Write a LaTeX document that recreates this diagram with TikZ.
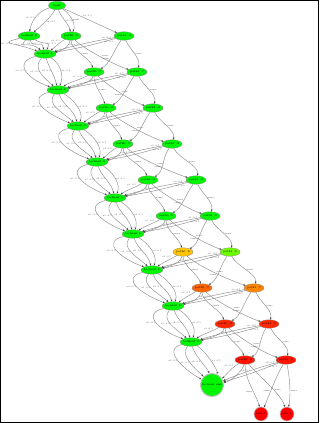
\documentclass[tikz,border=0pt]{standalone}
\usetikzlibrary{arrows.meta,shapes.geometric}
\definecolor{gr}{RGB}{0,245,0}
\definecolor{cA6}{RGB}{255,196,0}
\definecolor{cB6}{RGB}{110,250,0}
\definecolor{cA7}{RGB}{255,100,0}
\definecolor{cB7}{RGB}{255,135,0}
\definecolor{cR8}{RGB}{255,40,0}
\definecolor{cR9}{RGB}{255,20,0}
\definecolor{cE}{RGB}{255,0,0}
\begin{document}
\begin{tikzpicture}[x=1pt,y=-1pt,
  st/.style={ellipse, draw=black!45, line width=0.3pt, fill=#1, inner sep=0pt,
             minimum width=20pt, minimum height=8.5pt, font=\fontsize{2.8}{3}\selectfont},
  st/.default=gr,
  ed/.style={draw=black!45, line width=0.45pt, -{Stealth[length=2.4pt,width=1.8pt,black!75]}},
  lb/.style={font=\fontsize{2.2}{2.4}\selectfont, text=black!70, inner sep=0.6pt}]
\useasboundingbox (0,0) rectangle (319,423);
\draw[line width=1.4pt] (0.7,0.7) rectangle (318.3,422.3);

% nodes
\node[st, minimum width=17pt] (S) at (57,5.5) {start};
\node[st] (L0) at (29,36) {lockout 0};
\node[st] (L1) at (45,54) {lockout 1};
\node[st] (L2) at (58,90) {lockout 2};
\node[st] (L3) at (78,126) {lockout 3};
\node[st] (L4) at (97,162) {lockout 4};
\node[st] (L5) at (115,198) {lockout 5};
\node[st] (L6) at (133,234) {lockout 6};
\node[st] (L7) at (152,270) {lockout 7};
\node[st] (L8) at (173,306) {lockout 8};
\node[st] (L9) at (191,342) {lockout 9};
\node[circle, draw=black!25, line width=1pt, fill=gr, minimum size=23pt, inner sep=0pt,
      font=\fontsize{2.8}{3}\selectfont] (LE) at (212,385) {lockout end};

\node[st] (A0) at (71,36) {path0 :0};
\node[st] (A1) at (94,72) {path0 :1};
\node[st] (A2) at (106,108) {path0 :2};
\node[st] (A3) at (123,144) {path0 :3};
\node[st] (A4) at (148,180) {path0 :4};
\node[st] (A5) at (166,216) {path0 :5};
\node[st=cA6] (A6) at (183,252) {path0 :6};
\node[st=cA7] (A7) at (202,288) {path0 :7};
\node[st=cR8] (A8) at (225,324) {path0 :8};
\node[st=cR9] (A9) at (245,360) {path0 :9};

\node[st] (B0) at (124,36) {path1 :0};
\node[st] (B1) at (137,72) {path1 :1};
\node[st] (B2) at (153,108) {path1 :2};
\node[st] (B3) at (172,144) {path1 :3};
\node[st] (B4) at (196,180) {path1 :4};
\node[st] (B5) at (210,216) {path1 :5};
\node[st=cB6] (B6) at (230,252) {path1 :6};
\node[st=cB7] (B7) at (254,288) {path1 :7};
\node[st=cR8] (B8) at (269,324) {path1 :8};
\node[st=cR9] (B9) at (286,360) {path1 :9};

\node[circle, draw=black!25, line width=0.6pt, fill=cE, minimum size=14pt, inner sep=0pt,
      font=\fontsize{2.8}{3}\selectfont] (E0) at (261,414) {end 0};
\node[circle, draw=black!25, line width=0.6pt, fill=cE, minimum size=14pt, inner sep=0pt,
      font=\fontsize{2.8}{3}\selectfont] (E1) at (287,414) {end 1};

% start edges
\draw[ed] (S) .. controls +(-20,6) and +(2,-14) .. node[lb,left] {a0 :0.5} (L0);
\draw[ed] (S) .. controls +(-6,12) and +(12,-10) .. node[lb,right] {a1 :0.5} (L0);
\draw[ed] (S) .. controls +(4,12) and +(-2,-12) .. node[lb,right] {a2 :0.5} (A0);
\draw[ed] (S) -- node[lb,above right,pos=0.35] {a3 :0.5} (B0);
\draw[ed] (S) .. controls +(10,6) and +(6,-14) .. node[lb,right,pos=0.6] {same} (A0);

% generic steps
\foreach \k [evaluate=\k as \n using int(\k+1)] in {0,...,8} {
  \draw[ed] (L\k) .. controls +(-32,8) and +(-32,-12) .. node[lb,left] {a0 :0.5} (L\n);
  \draw[ed] (L\k) .. controls +(-12,14) and +(-16,-14) .. node[lb,left] {a1 :0.5} (L\n);
  \draw[ed] (L\k) .. controls +(4,14) and +(-4,-16) .. node[lb,left] {a2 :0.5} (L\n);
  \draw[ed] (L\k) .. controls +(16,10) and +(6,-14) .. node[lb,right] {a3 :0.5} (L\n);
  \draw[ed] (A\k) .. controls +(-14,8) and +(12,-8) .. node[lb,above left,pos=0.22] {a1 :0.5} (L\n);
  \draw[ed] (A\k) .. controls +(-2,10) and +(20,-4) .. node[lb,right,pos=0.3] {a2 :0.5} (L\n);
  \draw[ed] (B\k) to[bend right=3] node[lb,above,pos=0.12] {a0 :0.5} (L\n);
  \draw[ed] (B\k) to[bend left=3] node[lb,below,pos=0.1] {a3 :0.5} (L\n);
  \draw[ed] (A\k) .. controls +(0,14) and +(-4,-14) .. node[lb,right] {same} (A\n);
  \draw[ed] (A\k) .. controls +(14,14) and +(-20,-6) .. node[lb,above right,pos=0.5] {same} (B\n);
  \draw[ed] (B\k) .. controls +(-10,14) and +(16,-8) .. node[lb,left,pos=0.6] {same} (A\n);
  \draw[ed] (B\k) .. controls +(6,14) and +(4,-14) .. node[lb,right] {same} (B\n);
}

% final step
\draw[ed] (L9) .. controls +(-30,8) and +(-26,-14) .. node[lb,left] {a0 :0.5} (LE);
\draw[ed] (L9) .. controls +(-12,14) and +(-14,-14) .. node[lb,left] {a1 :0.5} (LE);
\draw[ed] (L9) .. controls +(4,14) and +(-4,-16) .. node[lb,left] {a2 :0.5} (LE);
\draw[ed] (L9) .. controls +(16,10) and +(6,-14) .. node[lb,right] {a3 :0.5} (LE);
\draw[ed] (A9) .. controls +(-14,8) and +(12,-8) .. node[lb,above left,pos=0.22] {a1 :0.5} (LE);
\draw[ed] (A9) .. controls +(-2,10) and +(20,-4) .. node[lb,right,pos=0.3] {a2 :0.5} (LE);
\draw[ed] (B9) to[bend right=3] node[lb,above,pos=0.12] {a0 :0.5} (LE);
\draw[ed] (B9) to[bend left=3] node[lb,below,pos=0.1] {a3 :0.5} (LE);
\draw[ed] (A9) .. controls +(0,20) and +(-4,-18) .. node[lb,left,pos=0.6] {same} (E0);
\draw[ed] (A9) .. controls +(14,16) and +(-6,-20) .. node[lb,right,pos=0.6] {same} (E1);
\draw[ed] (B9) .. controls +(-10,16) and +(8,-18) .. node[lb,left,pos=0.6] {same} (E0);
\draw[ed] (B9) .. controls +(4,18) and +(4,-18) .. node[lb,right,pos=0.6] {same} (E1);
\end{tikzpicture}
\end{document}
